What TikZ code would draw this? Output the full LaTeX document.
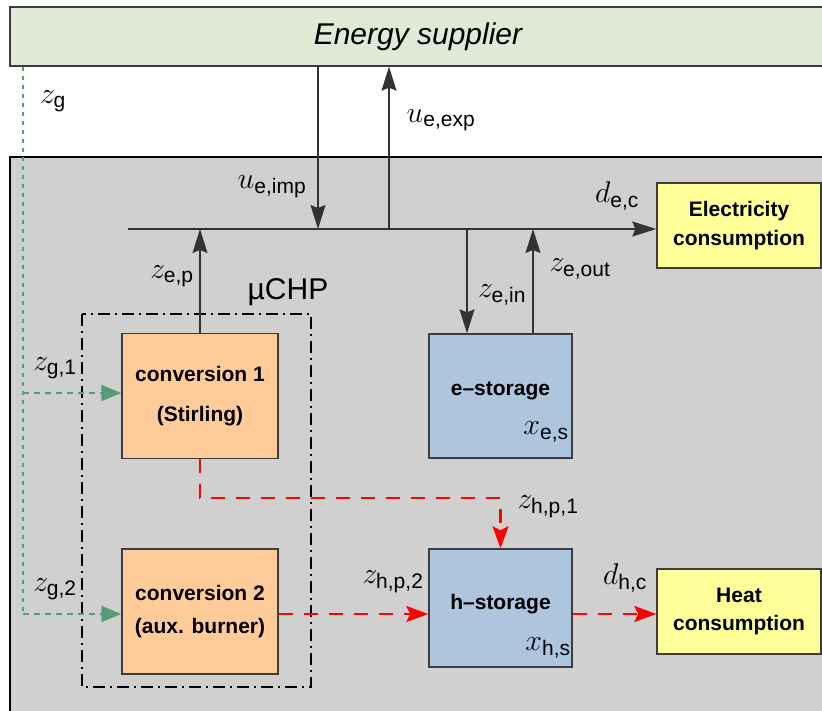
\RequirePackage{fix-cm}
\documentclass[tikz,border=0pt]{standalone}
\usepackage{amsmath}
\usepackage{fontspec}
\setsansfont{Liberation Sans}
\usetikzlibrary{arrows.meta}
\definecolor{supplierfill}{RGB}{223,233,214}
\definecolor{housegray}{RGB}{208,208,208}
\definecolor{convfill}{RGB}{255,204,153}
\definecolor{storfill}{RGB}{174,197,222}
\definecolor{consfill}{RGB}{255,255,153}
\definecolor{gasgreen}{RGB}{88,155,120}
\definecolor{boxline}{RGB}{60,60,60}
\newcommand{\sbs}[1]{\textsf{#1}}

\begin{document}
\begin{tikzpicture}[x=1pt, y=-1pt, >=Stealth,
  box/.style={draw=boxline, line width=1.4pt, inner sep=0pt, align=center,
    font=\sffamily\bfseries\fontsize{21}{29}\selectfont},
  conv/.style={box, fill=convfill, minimum width=156pt, minimum height=125pt},
  stor/.style={box, fill=storfill, minimum width=143pt},
  cons/.style={box, fill=consfill, minimum width=164pt, minimum height=85pt},
  lbl/.style={inner sep=0pt, font=\fontsize{30}{36}\selectfont},
  flow/.style={->, line width=1.2pt, draw=black!80,
    -{Stealth[length=24pt, width=15pt, inset=3pt]}},
  heatflow/.style={red, line width=2.5pt, dash pattern=on 14pt off 11pt,
    -{Stealth[length=22pt, width=16pt, inset=4pt]}},
  gasline/.style={gasgreen, line width=2pt, dash pattern=on 4pt off 5pt},
  gasflow/.style={gasgreen, line width=2pt, dash pattern=on 6pt off 5pt,
    -{Triangle[length=20pt, width=16pt]}}]

\useasboundingbox (0,0) rectangle (822,711);

% ---------- supplier and household area ----------
\fill[housegray] (10,157) rectangle (830,720);
\draw[line width=1.5pt] (10,720) -- (10,157) -- (830,157);
\node[draw=boxline, line width=1.4pt, fill=supplierfill, minimum width=816pt,
  minimum height=59pt, font=\sffamily\itshape\fontsize{30}{36}\selectfont]
  (sup) at (418,36.5) {Energy supplier};

% ---------- components ----------
\draw[line width=1.8pt, dash pattern=on 12pt off 5pt on 2pt off 5pt]
  (82,314) rectangle (311,687);
\node[lbl, font=\sffamily\fontsize{30}{36}\selectfont] (chp) at (288,292) {µCHP};
\node[conv] (conv1) at (200,396) {conversion 1\\[11pt](Stirling)};
\node[conv] (conv2) at (200,611.5) {conversion 2\\[4pt](aux. burner)};
\node[stor, minimum height=124pt] (estor) at (500.5,396) {};
\node[stor, minimum height=118pt] (hstor) at (500.5,608) {};
\node[box, draw=none] (estxt) at (500.5,391) {e–storage};
\node[box, draw=none] (hstxt) at (500.5,604) {h–storage};
\node[cons] (elec) at (739,225.5) {Electricity\\consumption};
\node[cons] (heat) at (739,611.5) {Heat\\[-1pt]consumption};
\node[lbl] (xes) at (546,432) {$x_{\sbs{e,s}}$};
\node[lbl] (xhs) at (548,648) {$x_{\sbs{h,s}}$};

% ---------- electricity bus ----------
\coordinate (busL) at (128,229);
\coordinate (imp) at (318,229);
\coordinate (exp) at (389,229);
\coordinate (ein) at (467,229);
\coordinate (eout) at (533,229);
\draw[flow] (busL) -- (busL -| elec.west);
\draw[flow] (imp |- sup.south) -- (imp);
\draw[flow] (exp) -- (exp |- sup.south);
\draw[flow] (conv1.north) -- (conv1.north |- busL);
\draw[flow] (ein) -- (ein |- estor.north);
\draw[flow] (eout |- estor.north) -- (eout);
\node[lbl] (uimp) at (272,187) {$u_{\sbs{e,imp}}$};
\node[lbl] (uexp) at (441,120) {$u_{\sbs{e,exp}}$};
\node[lbl] (dec) at (617,196) {$d_{\sbs{e,c}}$};
\node[lbl] (zep) at (172,276) {$z_{\sbs{e,p}}$};
\node[lbl] (zein) at (502,295) {$z_{\sbs{e,in}}$};
\node[lbl] (zeout) at (580,269) {$z_{\sbs{e,out}}$};

% ---------- heat ----------
\coordinate (hy) at (0,614);
\draw[heatflow] (conv1.south) -- ++(0,39) -| (hstor.north);
\draw[heatflow] (conv2.east |- hy) -- (hstor.west |- hy);
\draw[heatflow] (hstor.east |- hy) -- (heat.west |- hy);
\node[lbl] (zhp1) at (548,507) {$z_{\sbs{h,p,1}}$};
\node[lbl] (zhp2) at (393,582) {$z_{\sbs{h,p,2}}$};
\node[lbl] (dhc) at (625,578) {$d_{\sbs{h,c}}$};

% ---------- gas ----------
\coordinate (g1) at (23,393);
\coordinate (g2) at (23,614);
\draw[gasline] (g1 |- sup.south) -- (g2);
\draw[gasflow] (g1) -- (g1 -| conv1.west);
\draw[gasflow] (g2) -- (g2 -| conv2.west);
\node[lbl] (zg) at (53,101) {$z_{\sbs{g}}$};
\node[lbl] (zg1) at (55,368) {$z_{\sbs{g,1}}$};
\node[lbl] (zg2) at (55,589) {$z_{\sbs{g,2}}$};

\end{tikzpicture}
\end{document}
